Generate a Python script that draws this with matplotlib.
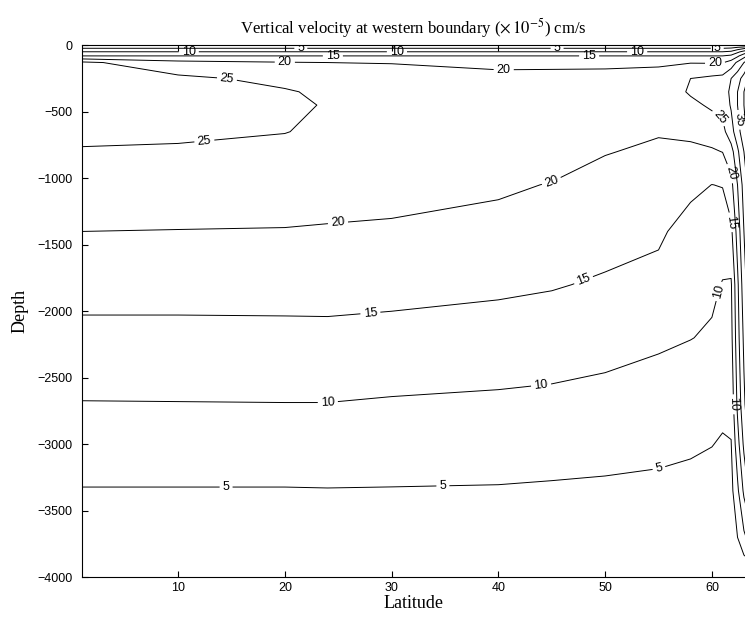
import numpy as np
import matplotlib.pyplot as plt

# grid: latitude columns, depth rows
lat = [1, 10, 20, 24, 30, 40, 45, 50, 55, 58, 60, 61, 61.8, 62.4, 63.0, 63.6]
depth = [0, -25, -50, -80, -130, -250, -350, -450, -650, -800, -1050,
         -1400, -1800, -2200, -2700, -3000, -3350, -3700, -4000]

# vertical velocity (x 1e-5 cm/s), one list per latitude column
w_cols = [
    [0, 5.5, 10.2, 15, 26.0, 27.0, 27.5, 27.5, 26.5, 24.5, 22.5, 20.0, 17.0, 13.5, 9.8, 7.3, 4.8, 2.3, 0],
    [0, 5.5, 10.2, 15, 21.5, 26.0, 27.0, 27.0, 26.0, 24.3, 22.3, 19.9, 17.0, 13.5, 9.85, 7.3, 4.8, 2.3, 0],
    [0, 5.5, 10.2, 15, 20.3, 23.8, 25.4, 25.6, 25.1, 24.0, 22.2, 19.8, 17.0, 13.6, 9.9, 7.3, 4.8, 2.3, 0],
    [0, 5.5, 10.2, 15, 20.0, 23.2, 24.2, 24.8, 24.3, 23.6, 22.0, 19.6, 17.1, 13.6, 9.9, 7.35, 4.85, 2.3, 0],
    [0, 5.5, 10.2, 15, 19.8, 22.5, 23.3, 23.8, 23.8, 23.2, 21.8, 19.3, 16.2, 13.8, 9.5, 7.2, 4.8, 2.3, 0],
    [0, 5.5, 10.2, 15, 18.5, 21.8, 22.6, 23.0, 23.2, 22.8, 20.7, 18.5, 15.8, 13.0, 9.15, 7.0, 4.7, 2.3, 0],
    [0, 5.5, 10.2, 15, 18.8, 21.6, 22.3, 22.6, 22.6, 22.0, 19.8, 17.5, 15.3, 12.7, 8.8, 6.8, 4.5, 2.2, 0],
    [0, 5.5, 10.2, 15, 19.0, 21.5, 22.2, 22.4, 21.8, 20.2, 18.5, 16.6, 14.5, 12.2, 8.0, 6.5, 4.3, 2.0, 0],
    [0, 5.5, 10.2, 15, 19.5, 21.3, 21.6, 21.5, 20.3, 19.3, 17.8, 15.8, 13.5, 10.8, 7.5, 6.1, 4.0, 1.9, 0],
    [0, 5.5, 10.2, 15, 19.8, 25.0, 25.6, 23.8, 20.5, 19.5, 16.2, 13.0, 11.5, 10.1, 7.0, 5.6, 3.7, 1.8, 0],
    [0, 5.5, 10.2, 15, 19.7, 26.0, 27.0, 25.8, 22.0, 19.5, 14.95, 12.0, 10.8, 9.5, 6.8, 5.1, 3.4, 1.7, 0],
    [0, 5.5, 10.2, 15, 19.7, 26.5, 27.5, 26.8, 23.5, 20.1, 15.2, 12.0, 9.8, 8.5, 6.0, 4.6, 3.2, 1.6, 0],
    [0, 6, 11, 16, 22, 30, 31, 30.5, 28, 23, 18.5, 13.8, 9.5, 8.5, 6.5, 4.8, 3.5, 1.8, 0],
    [0, 8, 14, 19, 26, 33, 35, 35, 33, 29, 25, 22, 19, 18, 16, 13, 9, 5, 0],
    [0, 10, 17, 23, 30, 37, 40, 40, 38, 35, 32, 30, 28, 26, 24, 21, 16, 9, 0],
    [0, 12, 20, 27, 35, 42, 45, 45, 44, 41, 38, 36, 34, 32, 30, 27, 22, 12, 0],
]

levels = [5, 10, 15, 20, 25, 30, 35, 40, 45]

# where the contour labels sit (lat, depth)
label_pos = [
    (11, -50), (20, -125), (21.5, -25), (24.5, -80), (30.5, -50),
    (40.5, -175), (45.5, -25), (48.5, -80), (53, -50), (60.5, -25), (60.3, -140),
    (14.5, -290), (12.5, -750), (25, -1355), (45, -1030),
    (28, -2000), (48, -1770), (24, -2660), (44, -2555), (60.6, -1850),
    (14.5, -3320), (34.8, -3300), (55, -3170),
    (60.8, -540), (62.6, -560), (61.9, -960), (61.9, -1330), (62.0, -2700),
]

plt.rcParams['font.family'] = 'Liberation Sans'
plt.rcParams['mathtext.fontset'] = 'stix'

fig = plt.figure(figsize=(7.45, 6.2), dpi=100)
ax = fig.add_axes([0.110, 0.069, 0.89, 0.858])

W = np.array(w_cols).T
cs = ax.contour(lat, depth, W, levels=levels, colors='k', linewidths=0.7)
ax.clabel(cs, fmt='%d', fontsize=9, inline=True, inline_spacing=3, manual=label_pos)

ax.set_xlim(1, 63.1)
ax.set_ylim(-4000, 0)
ax.set_xticks([10, 20, 30, 40, 50, 60])
ax.set_yticks(np.arange(-4000, 1, 500))
ax.tick_params(direction='in', top=True, right=False, length=4, labelsize=9)
ax.tick_params(axis='y', pad=7)
ax.spines['right'].set_visible(False)

ax.set_title(r'Vertical velocity at western boundary ($\times\,10^{-5}$) cm/s',
             family='Liberation Serif', fontsize=12, pad=8)
ax.set_xlabel('Latitude', family='Liberation Serif', fontsize=13, labelpad=1)
ax.set_ylabel('Depth', family='Liberation Serif', fontsize=13, labelpad=6)

fig.savefig('out.png', dpi=100)
